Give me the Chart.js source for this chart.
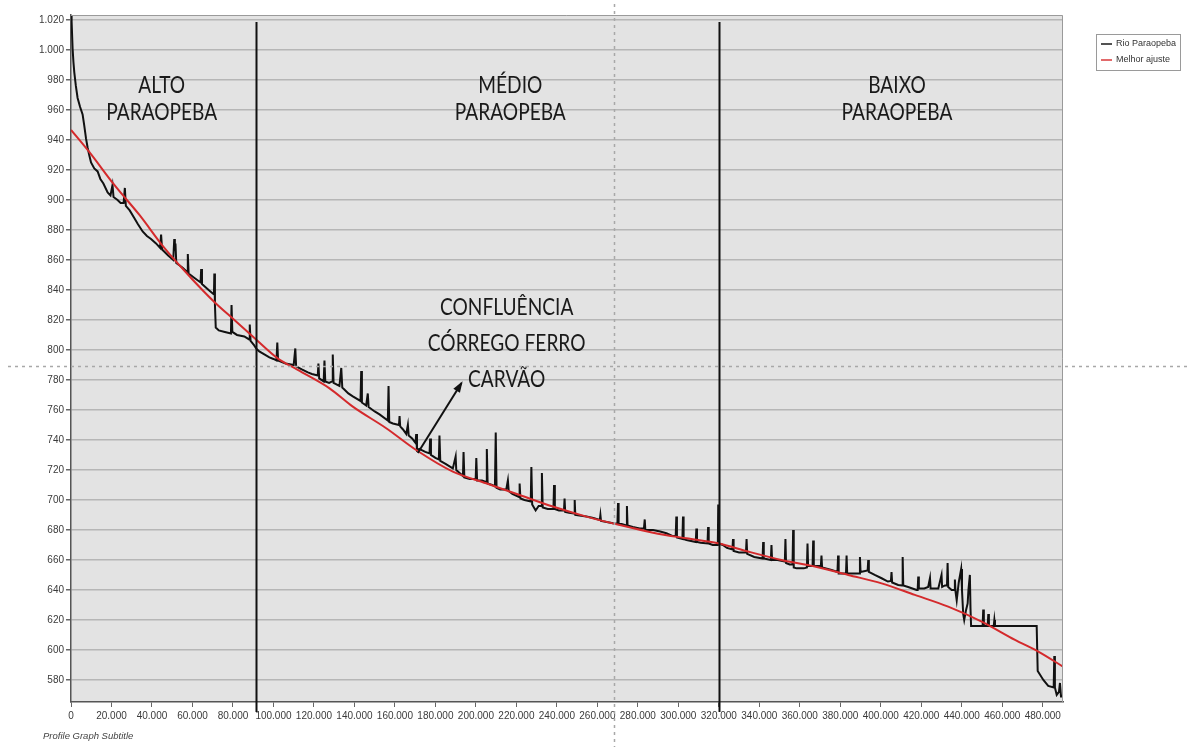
<!DOCTYPE html>
<html>
<head>
<meta charset="utf-8">
<script src="https://cdn.jsdelivr.net/npm/chart.js@4.4.1/dist/chart.umd.min.js"></script>
<style>
  html, body { margin: 0; padding: 0; background: #fff; }
  canvas { display: block; }
</style>
</head>
<body>
<canvas id="profile" width="1187" height="747"></canvas>
<script>
// Longitudinal profile of the Paraopeba river: distance (m) and elevation (m)
const riverDist = [
  0,300,790,1200,1630,2400,3260,4500,5730,6500,
  7410,8200,9000,9890,11500,13150,14500,16000,18090,19500,
  20500,21000,23000,24500,26000,26600,27100,29000,31250,33000,
  35390,37500,39540,42000,44000,44500,45000,48000,50500,51000,
  51300,51600,52000,55000,57400,57700,58100,61000,64000,64300,
  64700,68000,70600,70800,71100,71500,73000,76000,79000,79300,
  79700,82000,85600,88000,88300,88700,90500,91450,93000,95500,
  98000,100000,101500,101900,102300,106000,110000,110800,111200,114000,
  117000,119000,121900,122200,122600,124800,125200,125600,127500,129000,
  129300,129700,132600,133500,134000,137000,139200,143000,143350,143700,
  145800,146600,147000,150000,152400,156500,156850,157200,159000,162000,
  162300,162600,164000,165600,166400,166800,168500,170200,170500,170900,
  172000,175000,177100,177400,177800,180000,181700,182000,182400,185000,
  188600,190000,190300,193600,193900,194300,197000,199900,200200,200600,
  203000,205000,205400,205800,208000,209400,209800,210200,212000,215000,
  215800,216200,218000,221300,221600,222000,224000,227100,227400,227800,
  229500,231000,232300,232600,233000,235500,238300,238600,239000,241000,
  243500,243800,244100,246000,248500,248800,249100,252000,254600,258000,
  261200,261500,261800,264000,267700,269900,270200,270500,272000,274300,
  274600,274900,277500,280900,283000,283400,283700,287500,291000,294100,
  297000,298700,299000,299300,302000,302300,302600,304000,308600,308900,
  309200,311000,314400,314700,315000,317000,319500,319700,319900,322000,
  324000,326700,327000,327300,330000,333400,333700,334000,337500,341600,
  341900,342200,345700,346000,346300,349000,352600,352900,353200,355000,
  356400,356700,357000,358400,362000,363500,363800,364100,366300,366600,
  366900,370400,370700,371000,375700,378600,378900,379200,380600,382800,
  383100,383400,387200,389400,389700,390000,393500,393800,394100,397000,
  400400,403500,405000,405300,405600,408600,410500,410800,411100,413500,
  417700,418200,418500,418800,421500,423400,424300,424600,426500,428400,
  430000,430300,431700,432700,433000,433300,435000,436300,436600,436900,
  437500,438500,439700,440100,440700,441200,442000,442900,443300,444000,
  444300,444600,449800,450300,450600,450900,452800,453100,453400,455800,
  456100,456400,477000,477500,480300,482700,485400,485700,486000,486900,
  488000,488500,489000,489400,490000
];
const riverElev = [
  1023,1019,1001,992,985,976,968,962,957,950,
  941,935,930,925,921,919,914,911,905,903,
  910,902,900,898,898,908,896,893,888,884,
  879,876,874,871,868,877,867,863,860,874,
  866,871,858,855,852,864,851,848,845,854,
  844,840,837,851,830,815,813,812,811,830,
  812,810,809,807,817,806,803,801,799,797,
  795,794,793,805,793,791,790,801,789,787,
  785,784,783,791,781,779,793,779,778,779,
  797,778,776,788,775,771,769,766,786,765,
  763,771,762,759,757,753,776,752,751,750,
  756,749,747,744,750,743,741,738,744,733,
  734,732,731,741,730,728,727,743,726,724,
  721,729,720,716,732,715,714,714,728,713,
  713,712,734,711,710,709,745,708,707,707,
  713,706,704,702,711,701,700,699,722,697,
  693,696,696,718,695,694,694,710,694,693,
  693,701,692,691.5,691,700,690,689.5,689,688,
  686.7,690,686,685.5,684.4,684,698,684,684,683,
  696,683,682,681,681,687,680,680,679,677.8,
  676,676,689,675,674,689,674,673.3,672,681,
  672,671.5,671,682,671,670,670,697,671,670,
  668,667,674,666,665,665,674,664,662,661,
  672,661,660,670,660,660,659,674,658,657,
  657,680,655,654.4,654.4,655,671,656,656,673,
  656,656,663,655,653.3,652,663,651,651,651,
  663,651,651,651,662,652,653,660,652,650,
  647.8,645.6,646,652,645,643.3,643,662,643,642,
  640,640,649,641,641,642,648,641,641,641,
  650,642,643,643,658,642,640,640,647,639,
  633,645,654,640,624,620,626,631,640,650,
  628,616,616,616,627,616,616,624,616,616,
  620,616,616,586,580,576,575,596,575,570,
  572,578,569,569,570
];

// Best-fit curve ("Melhor ajuste")
const fitDist = [
  0,9000,21400,33800,46100,59300,70800,80700,90600,102100,
  112000,127700,139200,155700,170500,188600,205100,221600,238000,254600,
  271000,287500,304000,319600,334400,350900,367400,383900,400400,416800,
  433300,449800,466300,477800,490000
];
const fitElev = [
  946.7,932,910,890,868,848,832,820,808,794.4,
  786.7,774.4,762.2,747.8,733.3,718.9,711.1,703.3,695.6,688.9,
  683.3,678.2,674.4,671.1,665.6,660,655.6,650,644.4,636.7,
  628.9,618.9,606.7,598.9,588.9
];

const seriesNames = ['Rio Paraopeba', 'Melhor ajuste'];
const xTickValues = [0,20000,40000,60000,80000,100000,120000,140000,160000,180000,200000,
  220000,240000,260000,280000,300000,320000,340000,360000,380000,400000,420000,440000,460000,480000];
const yTickValues = [580,600,620,640,660,680,700,720,740,760,780,800,820,840,860,880,900,
  920,940,960,980,1000,1020];

// Stretch boundaries between upper, middle and lower river
const sectionBreaks = [91500, 320000];
const sectionNames = [['ALTO', 'PARAOPEBA'], ['MÉDIO', 'PARAOPEBA'], ['BAIXO', 'PARAOPEBA']];
const confluenceNote = ['CONFLUÊNCIA', 'CÓRREGO FERRO', 'CARVÃO'];
const subtitle = 'Profile Graph Subtitle';

const SANS = "'Liberation Sans', Arial, sans-serif";
const LABEL_FONT = "'Lato', 'Liberation Sans', sans-serif";

function fmtThousands(v) {
  return String(Math.round(v)).replace(/\B(?=(\d{3})+(?!\d))/g, '.');
}

const riverPoints = riverDist.map((d, i) => ({ x: d, y: riverElev[i] }));
const fitPoints = fitDist.map((d, i) => ({ x: d, y: fitElev[i] }));

// condensed label text: drawn with a horizontal squeeze
function squeezedText(ctx, text, x, y, sx) {
  ctx.save();
  ctx.translate(x, y);
  ctx.scale(sx, 1);
  ctx.fillText(text, 0, 0);
  ctx.restore();
}

const decor = {
  id: 'decor',
  beforeDraw(chart) {
    const { ctx, chartArea: a } = chart;
    ctx.save();
    ctx.fillStyle = '#ffffff';
    ctx.fillRect(0, 0, chart.width, chart.height);
    ctx.fillStyle = '#e3e3e3';
    ctx.fillRect(a.left, a.top, a.right - a.left, a.bottom - a.top);
    ctx.restore();
  },
  afterDatasetsDraw(chart) {
    const { ctx, chartArea: a } = chart;
    const xs = chart.scales.x, ys = chart.scales.y;
    const px = v => xs.getPixelForValue(v);
    const py = v => ys.getPixelForValue(v);
    ctx.save();

    // frame on top / right
    ctx.strokeStyle = '#9a9a9a';
    ctx.lineWidth = 1;
    ctx.beginPath();
    ctx.moveTo(a.left, a.top + 0.5);
    ctx.lineTo(a.right - 0.5, a.top + 0.5);
    ctx.lineTo(a.right - 0.5, a.bottom);
    ctx.stroke();

    // section dividers
    ctx.strokeStyle = '#111';
    ctx.lineWidth = 2;
    sectionBreaks.forEach(d => {
      const x = Math.round(px(d)) + 0.5;
      ctx.beginPath();
      ctx.moveTo(x, a.top + 7);
      ctx.lineTo(x, a.bottom + 10);
      ctx.stroke();
    });

    // section labels
    ctx.fillStyle = '#1a1a1a';
    ctx.font = '23px ' + LABEL_FONT;
    ctx.textAlign = 'center';
    ctx.textBaseline = 'middle';
    const sx = 111 / ctx.measureText('PARAOPEBA').width;
    const labelCentres = [44800, 217000, 408000];
    sectionNames.forEach((lines, i) => {
      squeezedText(ctx, lines[0], px(labelCentres[i]), py(976.5), sx);
      squeezedText(ctx, lines[1], px(labelCentres[i]), py(958), sx);
    });

    // confluence note with arrow
    confluenceNote.forEach((t, i) => {
      squeezedText(ctx, t, px(215200), py([828, 804.5, 780][i]), sx);
    });
    const x0 = px(171300), y0 = py(731.3), x1 = px(192900), y1 = py(778);
    ctx.strokeStyle = '#111';
    ctx.lineWidth = 2;
    ctx.beginPath();
    ctx.moveTo(x0, y0);
    ctx.lineTo(x1, y1);
    ctx.stroke();
    const ang = Math.atan2(y1 - y0, x1 - x0);
    const head = 10;
    ctx.beginPath();
    ctx.moveTo(x1 + 2 * Math.cos(ang), y1 + 2 * Math.sin(ang));
    ctx.lineTo(x1 - head * Math.cos(ang - 0.4), y1 - head * Math.sin(ang - 0.4));
    ctx.lineTo(x1 - head * Math.cos(ang + 0.4), y1 - head * Math.sin(ang + 0.4));
    ctx.closePath();
    ctx.fillStyle = '#111';
    ctx.fill();

    // cursor cross-hair
    ctx.strokeStyle = '#a8a8a8';
    ctx.lineWidth = 1.5;
    ctx.setLineDash([3, 4]);
    const cx = Math.round(px(268000)) + 0.5;
    const cy = Math.round(py(789.3)) + 0.5;
    ctx.beginPath();
    ctx.moveTo(cx, 4);
    ctx.lineTo(cx, chart.height);
    ctx.moveTo(8, cy);
    ctx.lineTo(chart.width, cy);
    ctx.stroke();
    ctx.setLineDash([]);

    // legend
    const lx = 1096, ly = 34, lw = 84, lh = 36;
    ctx.fillStyle = '#ffffff';
    ctx.fillRect(lx, ly, lw, lh);
    ctx.strokeStyle = '#9a9a9a';
    ctx.lineWidth = 1;
    ctx.strokeRect(lx + 0.5, ly + 0.5, lw, lh);
    const colours = ['#1a1a1a', '#d8383a'];
    ctx.font = '9px ' + SANS;
    ctx.textAlign = 'left';
    ctx.textBaseline = 'middle';
    seriesNames.forEach((name, i) => {
      const yy = ly + 10 + i * 16;
      ctx.strokeStyle = colours[i];
      ctx.lineWidth = 1.5;
      ctx.beginPath();
      ctx.moveTo(lx + 5, yy);
      ctx.lineTo(lx + 16, yy);
      ctx.stroke();
      ctx.fillStyle = '#333';
      ctx.fillText(name, lx + 20, yy);
    });

    // subtitle
    ctx.font = 'italic 9.5px ' + SANS;
    ctx.fillStyle = '#444';
    ctx.textAlign = 'left';
    ctx.fillText(subtitle, 43, 736);

    ctx.restore();
  }
};

new Chart(document.getElementById('profile'), {
  type: 'line',
  data: {
    datasets: [
      {
        label: seriesNames[0],
        data: riverPoints,
        borderColor: '#111111',
        borderWidth: 2,
        pointRadius: 0,
        tension: 0,
        order: 2
      },
      {
        label: seriesNames[1],
        data: fitPoints,
        borderColor: '#d42a2c',
        borderWidth: 2,
        pointRadius: 0,
        cubicInterpolationMode: 'monotone',
        order: 1
      }
    ]
  },
  options: {
    responsive: false,
    animation: false,
    devicePixelRatio: 1,
    layout: { padding: { top: 15, right: 124, bottom: 0, left: 0 } },
    plugins: { legend: { display: false }, tooltip: { enabled: false } },
    scales: {
      x: {
        type: 'linear',
        min: 0,
        max: 490000,
        afterBuildTicks: s => { s.ticks = xTickValues.map(v => ({ value: v })); },
        afterFit: s => { s.height = 45; },
        grid: { drawOnChartArea: false, drawTicks: true, tickLength: 5, tickColor: '#666' },
        border: { display: true, color: '#555', width: 1.5 },
        ticks: {
          maxRotation: 0,
          autoSkip: false,
          padding: 3,
          color: '#3a3a3a',
          font: { family: SANS, size: 10 },
          callback: v => fmtThousands(v)
        }
      },
      y: {
        type: 'linear',
        min: 565.3,
        max: 1023.3,
        afterBuildTicks: s => { s.ticks = yTickValues.map(v => ({ value: v })); },
        afterFit: s => { s.width = 71; },
        grid: { color: '#b6b6b6', lineWidth: 1.5, drawTicks: true, tickLength: 5, tickColor: '#666' },
        border: { display: true, color: '#555', width: 1.5 },
        ticks: {
          autoSkip: false,
          padding: 2,
          color: '#3a3a3a',
          font: { family: SANS, size: 10 },
          callback: v => fmtThousands(v)
        }
      }
    }
  },
  plugins: [decor]
});
</script>
</body>
</html>
